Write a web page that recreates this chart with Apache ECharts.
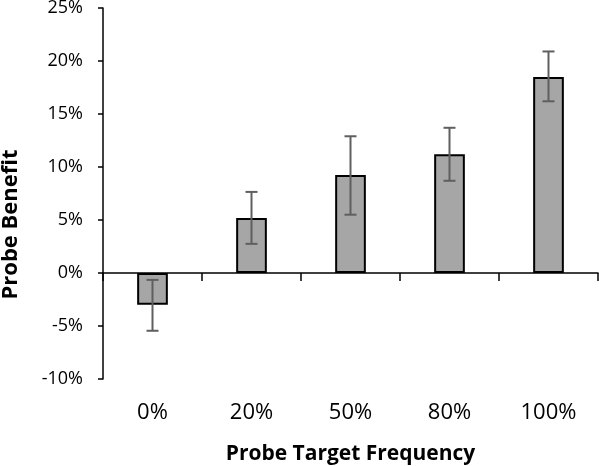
<!DOCTYPE html>
<html>
<head>
<meta charset="utf-8">
<script src="https://cdn.jsdelivr.net/npm/echarts@6/dist/echarts.min.js"></script>
<style>
  html, body { margin: 0; padding: 0; background: #fff; }
  #chart { width: 599px; height: 466px; }
</style>
</head>
<body>
<div id="chart"></div>
<script>
var categories = ["0%", "20%", "50%", "80%", "100%"];
var benefit = [-3.0, 5.2, 9.25, 11.2, 18.5];
var errLow = [-5.45, 2.75, 5.5, 8.7, 16.2];
var errHigh = [-0.65, 7.65, 12.9, 13.7, 20.9];

var chartDom = document.getElementById("chart");
var myChart = echarts.init(chartDom);

var errorData = categories.map(function (c, i) {
  return [i, errLow[i], errHigh[i]];
});

var option = {
  animation: false,
  textStyle: { fontFamily: "Open Sans" },
  grid: {
    left: 103,
    right: 1,
    top: 8,
    bottom: 87,
    outerBoundsMode: "none",
  },
  xAxis: [
    {
      // zero line with ticks
      type: "category",
      data: categories,
      axisLine: { onZero: true, lineStyle: { color: "#000", width: 1.5 } },
      axisTick: { show: true, length: 8, lineStyle: { color: "#000", width: 1.5 } },
      axisLabel: { show: false },
      splitLine: { show: false },
    },
    {
      // labels at the bottom
      type: "category",
      position: "bottom",
      data: categories,
      axisLine: { show: false, onZero: false },
      axisTick: { show: false },
      axisLabel: { color: "#000", fontSize: 22, margin: 23 },
      name: "Probe Target Frequency",
      nameLocation: "middle",
      nameGap: 65,
      nameTextStyle: { color: "#000", fontSize: 21, fontWeight: "bold" },
    },
  ],
  yAxis: {
    type: "value",
    min: -10,
    max: 25,
    interval: 5,
    axisLine: { show: true, lineStyle: { color: "#000", width: 1.5 } },
    axisTick: { show: true, length: 5, lineStyle: { color: "#000", width: 1.5 } },
    splitLine: { show: false },
    axisLabel: { color: "#000", fontSize: 18, margin: 20, formatter: "{value}%" },
    name: "Probe Benefit",
    nameLocation: "middle",
    nameGap: 81,
    nameTextStyle: { color: "#000", fontSize: 22, fontWeight: "bold", padding: [0, 62, 0, 0] },
  },
  series: [
    {
      type: "bar",
      xAxisIndex: 0,
      data: benefit,
      barWidth: "31%",
      itemStyle: { color: "#a6a6a6", borderColor: "#000", borderWidth: 2 },
    },
    {
      type: "custom",
      xAxisIndex: 0,
      data: errorData,
      z: 10,
      renderItem: function (params, api) {
        var x = api.value(0);
        var lo = api.coord([x, api.value(1)]);
        var hi = api.coord([x, api.value(2)]);
        var cap = 6;
        var style = { stroke: "#5f5f5f", lineWidth: 2 };
        return {
          type: "group",
          children: [
            { type: "line", shape: { x1: hi[0], y1: hi[1], x2: lo[0], y2: lo[1] }, style: style },
            { type: "line", shape: { x1: hi[0] - cap, y1: hi[1], x2: hi[0] + cap, y2: hi[1] }, style: style },
            { type: "line", shape: { x1: lo[0] - cap, y1: lo[1], x2: lo[0] + cap, y2: lo[1] }, style: style },
          ],
        };
      },
    },
  ],
};

myChart.setOption(option);
</script>
</body>
</html>
